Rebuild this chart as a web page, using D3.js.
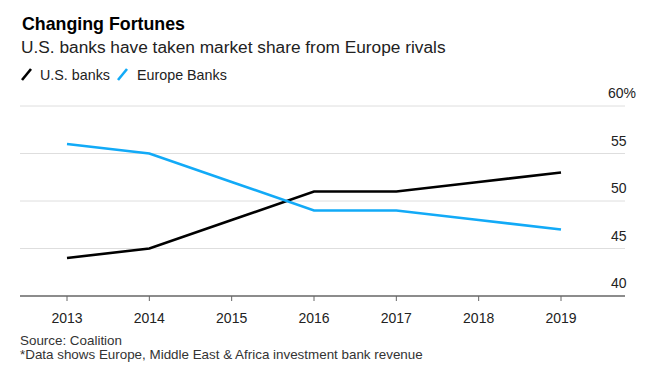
<!DOCTYPE html>
<html><head><meta charset="utf-8">
<script src="https://cdn.jsdelivr.net/npm/d3@7"></script>
<style>body{margin:0;background:#fff;} svg{display:block;font-family:"Liberation Sans",Arial,sans-serif;}</style>
</head><body>
<svg id="c" width="653" height="383"></svg>
<script>
const years = [2013, 2014, 2015, 2016, 2017, 2018, 2019];
const usBanks = [44, 45, 48, 51, 51, 52, 53];
const europeBanks = [56, 55, 52, 49, 49, 48, 47];
const yTicks = [40, 45, 50, 55, 60];
const seriesNames = ["U.S. banks", "Europe Banks"];
const colors = ["#000000", "#12aaf7"];

const svg = d3.select("#c");
const x = d3.scalePoint().domain(years).range([67, 561]);
const y = d3.scaleLinear().domain([40, 60]).range([296, 106]);
const gridX0 = 20, gridX1 = 625;

svg.append("text").attr("x", 22).attr("y", 30).attr("font-size", 17.8).attr("font-weight", "bold").attr("fill", "#000").text("Changing Fortunes");
svg.append("text").attr("x", 21).attr("y", 53).attr("font-size", 17.3).attr("fill", "#222").text("U.S. banks have taken market share from Europe rivals");

// legend
const lg = svg.append("g");
const legX = [22, 118];
const legTX = [40, 137];
seriesNames.forEach((n, i) => {
  lg.append("line").attr("x1", legX[i]).attr("y1", 80).attr("x2", legX[i] + 9).attr("y2", 69)
    .attr("stroke", colors[i]).attr("stroke-width", 2.6);
  lg.append("text").attr("x", legTX[i]).attr("y", 80).attr("font-size", 14.3).attr("fill", "#222").text(n);
});

// grid
yTicks.forEach(t => {
  if (t !== 40) svg.append("line").attr("x1", gridX0).attr("x2", gridX1).attr("y1", y(t)).attr("y2", y(t))
    .attr("stroke", "#dedede").attr("stroke-width", 1);
  const tx = svg.append("text").attr("x", 611).attr("y", y(t) - 8).attr("font-size", 14).attr("fill", "#222")
    .attr("text-anchor", "start").text(t + (t === 60 ? "%" : ""));
  if (t === 60) tx.attr("x", 608);
});

// lines
const line = d3.line().x((d, i) => x(years[i])).y(d => y(d));
[usBanks, europeBanks].forEach((s, i) => {
  svg.append("path").attr("d", line(s)).attr("fill", "none").attr("stroke", colors[i]).attr("stroke-width", 2.6);
});

// x axis
const xa = svg.append("g").attr("transform", "translate(0,296)");
xa.append("line").attr("x1", gridX0).attr("x2", gridX1).attr("stroke", "#666").attr("stroke-width", 1.5);
years.forEach(yr => {
  xa.append("line").attr("x1", x(yr)).attr("x2", x(yr)).attr("y1", 0).attr("y2", 5).attr("stroke", "#666");
  xa.append("text").attr("x", x(yr)).attr("y", 27).attr("text-anchor", "middle").attr("font-size", 14).attr("fill", "#222").text(yr);
});

svg.append("text").attr("x", 20).attr("y", 345).attr("font-size", 13.4).attr("fill", "#333").text("Source: Coalition");
svg.append("text").attr("x", 20).attr("y", 359).attr("font-size", 13.4).attr("fill", "#333").text("*Data shows Europe, Middle East & Africa investment bank revenue");
</script>
</body></html>
